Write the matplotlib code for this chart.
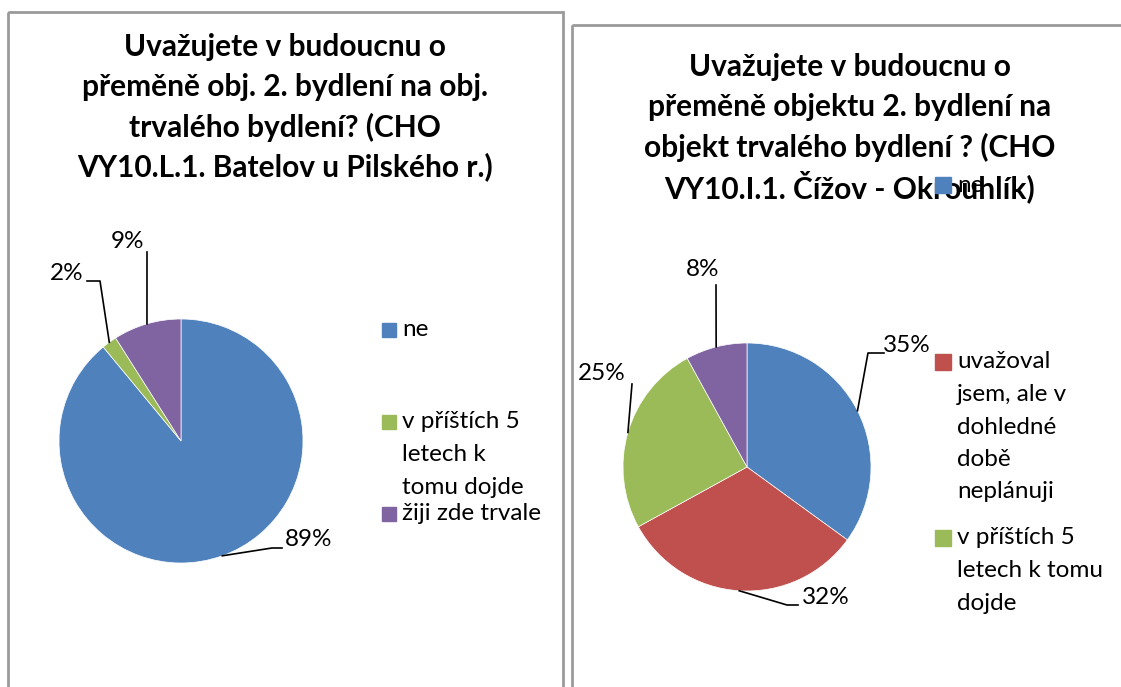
import numpy as np
import matplotlib

matplotlib.use("Agg")
import matplotlib.pyplot as plt
from matplotlib.patches import Rectangle

W, H = 1121, 687
FONT = ["Lato", "DejaVu Sans"]

BLUE = "#4F81BD"
RED = "#C0504D"
GREEN = "#9BBB59"
PURPLE = "#8064A2"
BORDER = "#9a9a9a"

# --- data
left_title = ("Uvažujete v budoucnu o\npřeměně obj. 2. bydlení na obj.\n"
              "trvalého bydlení? (CHO\nVY10.L.1. Batelov u Pilského r.)")
left_labels = ["ne", "v příštích 5\nletech k\ntomu dojde", "žiji zde trvale"]
left_values = [89, 2, 9]
left_colors = [BLUE, GREEN, PURPLE]

right_title = ("Uvažujete v budoucnu o\npřeměně objektu 2. bydlení na\n"
               "objekt trvalého bydlení ? (CHO\nVY10.I.1. Čížov - Okrouhlík)")
right_labels = ["ne", "uvažoval\njsem, ale v\ndohledné\ndobě\nneplánuji",
                "v příštích 5\nletech k tomu\ndojde", "žiji zde trvale"]
right_values = [35, 32, 25, 8]
right_colors = [BLUE, RED, GREEN, PURPLE]

fig = plt.figure(figsize=(W / 100, H / 100), dpi=100)
ax = fig.add_axes([0, 0, 1, 1])


def draw_chart(values, colors, center, radius, label_pos, bends):
    wedges, _ = ax.pie(values, colors=colors, startangle=-90, counterclock=True,
                       center=center, radius=radius,
                       wedgeprops=dict(edgecolor="white", linewidth=0.5))
    for w, v, (tx, ty), pts in zip(wedges, values, label_pos, bends):
        mid = np.deg2rad((w.theta1 + w.theta2) / 2)
        ex = center[0] + radius * np.cos(mid)
        ey = center[1] + radius * np.sin(mid)
        xs = [ex] + [p[0] for p in pts]
        ys = [ey] + [p[1] for p in pts]
        ax.plot(xs, ys, color="black", lw=1.2, zorder=3)
        ax.text(tx, ty, f"{v}%", ha="center", va="center", fontsize=17.5,
                family=FONT, zorder=4)
    return wedges


def draw_title(text, cx, y0, dy=40):
    for i, line in enumerate(text.split("\n")):
        ax.text(cx, y0 + i * dy, line, ha="center", va="center", fontsize=21.5,
                fontweight="bold", family=FONT, zorder=2)


def draw_legend(labels, colors, x, ys, size=15, dy=32.5):
    for lab, col, y in zip(labels, colors, ys):
        ax.add_patch(Rectangle((x, y - size / 2), size, size, color=col, zorder=5))
        for i, line in enumerate(lab.split("\n")):
            ax.text(x + size + 6, y + i * dy, line, ha="left", va="center",
                    fontsize=17.5, family=FONT, zorder=5)


# --- left chart
draw_chart(left_values, left_colors, (181, 441), 122,
           [(309, 540), (67, 273), (127, 241)],
           [[(272, 548), (282, 548)], [(100, 281), (87, 281)], [(147, 252)]])
draw_title(left_title, 285, 47)
draw_legend(left_labels, left_colors, 382, [330, 422, 514], size=14)

# --- right chart
draw_chart(right_values, right_colors, (747, 467), 124,
           [(907, 345), (826, 597), (602, 373), (703, 269)],
           [[(868, 353), (884, 353)], [(787, 605), (798, 605)], [(632, 384)], [(716, 285)]])
draw_title(right_title, 850, 67)
# legenda se do grafu nevejde celá - poslední položka je oříznutá
draw_legend(right_labels[:3], right_colors[:3], 935, [185, 362, 538], size=16)

ax.add_patch(Rectangle((8, 12), 555, 720, fill=False, edgecolor=BORDER, lw=2, zorder=6))
ax.add_patch(Rectangle((572, 25), 600, 720, fill=False, edgecolor=BORDER, lw=2, zorder=6))

ax.set_xlim(0, W)
ax.set_ylim(H, 0)
ax.set_aspect("auto")
ax.axis("off")

fig.savefig("out.png", dpi=100)
